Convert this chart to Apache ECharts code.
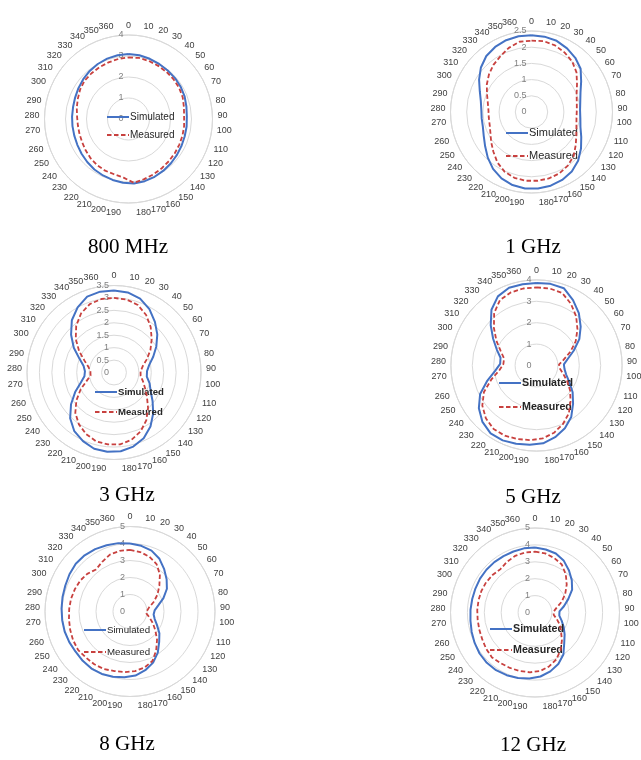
<!DOCTYPE html>
<html>
<head>
<meta charset="utf-8">
<script src="https://cdn.jsdelivr.net/npm/echarts@6/dist/echarts.min.js"></script>
<style>
  html, body { margin: 0; padding: 0; background: #ffffff; }
  #chart { width: 641px; height: 760px; }
</style>
</head>
<body>
<div id="chart"></div>
<script>
// Angular categories (degrees), one spoke every 10 degrees, 0 and 360 both present
const angles = [0,10,20,30,40,50,60,70,80,90,100,110,120,130,140,150,160,170,180,
                190,200,210,220,230,240,250,260,270,280,290,300,310,320,330,340,350,360];

// Radiation patterns, one simulated and one measured curve per frequency
const sim800  = [3.1,3.08,3.04,3.0,2.97,2.95,2.92,2.88,2.82,2.78,2.79,2.8,2.83,2.87,2.92,2.97,3.02,3.06,3.08,
                 3.05,3.0,2.95,2.9,2.84,2.78,2.73,2.7,2.69,2.69,2.7,2.74,2.8,2.87,2.94,3.0,3.05,3.08];
const meas800 = [2.93,2.95,2.93,2.9,2.88,2.86,2.83,2.78,2.7,2.65,2.67,2.69,2.71,2.74,2.78,2.83,2.89,2.96,3.05,
                 2.8,2.72,2.7,2.66,2.6,2.53,2.47,2.44,2.43,2.45,2.52,2.6,2.7,2.78,2.8,2.83,2.86,2.9];

const sim1G   = [2.37,2.36,2.33,2.25,2.15,2.02,1.8,1.63,1.54,1.5,1.52,1.58,1.72,1.9,2.08,2.22,2.3,2.35,2.37,
                 2.37,2.33,2.25,2.12,1.95,1.78,1.65,1.57,1.55,1.55,1.6,1.72,1.9,2.08,2.22,2.3,2.35,2.37];
const meas1G  = [2.2,2.22,2.18,2.1,2.0,1.85,1.65,1.5,1.43,1.4,1.4,1.45,1.55,1.7,1.88,2.0,2.08,2.12,2.13,
                 2.13,2.1,2.02,1.88,1.7,1.55,1.42,1.35,1.33,1.33,1.38,1.48,1.62,1.75,1.87,1.97,2.1,2.2];

const sim3G   = [3.3,3.27,3.15,2.92,2.62,2.32,2.0,1.7,1.45,1.33,1.33,1.5,1.65,1.93,2.28,2.62,2.9,3.08,3.18,
                 3.2,3.17,3.03,2.85,2.55,2.15,1.75,1.4,1.2,1.17,1.25,1.5,1.9,2.3,2.7,3.0,3.24,3.3];
const meas3G  = [3.0,2.98,2.88,2.65,2.35,2.02,1.72,1.42,1.18,1.07,1.08,1.22,1.4,1.65,1.98,2.32,2.6,2.8,2.9,
                 2.9,2.86,2.72,2.52,2.25,1.88,1.5,1.15,0.95,0.95,1.05,1.28,1.65,2.05,2.42,2.72,2.92,3.0];

const sim5G   = [3.85,3.87,3.83,3.5,3.15,2.75,2.35,1.88,1.5,1.28,1.32,1.45,1.72,2.1,2.47,2.9,3.22,3.46,3.65,
                 3.72,3.78,3.84,3.83,3.65,3.35,2.95,2.4,1.95,1.7,1.72,2.0,2.38,2.85,3.35,3.7,3.85,3.85];
const meas5G  = [3.65,3.65,3.6,3.3,2.95,2.55,2.15,1.7,1.3,1.05,1.1,1.3,1.6,1.95,2.3,2.7,3.0,3.25,3.42,
                 3.5,3.55,3.6,3.58,3.42,3.15,2.75,2.2,1.75,1.55,1.55,1.8,2.2,2.65,3.15,3.5,3.62,3.65];

const sim8G   = [4.0,3.92,3.8,3.55,3.2,2.87,2.55,2.12,1.7,1.45,1.4,1.52,1.78,2.15,2.48,2.92,3.3,3.57,3.78,
                 3.88,3.97,4.03,4.05,4.02,3.98,4.0,4.02,4.02,4.03,4.06,4.1,4.18,4.25,4.25,4.2,4.13,4.08];
const meas8G  = [3.62,3.55,3.42,3.2,2.8,2.3,1.9,1.5,1.15,1.0,0.98,1.2,1.5,1.85,2.3,2.75,3.2,3.4,3.52,
                 3.58,3.62,3.72,3.75,3.75,3.8,3.75,3.68,3.62,3.58,3.55,3.5,3.45,3.35,3.18,3.35,3.55,3.62];

const sim12G  = [3.85,3.78,3.7,3.5,3.2,2.9,2.58,2.12,1.75,1.45,1.45,1.65,1.9,2.18,2.5,3.0,3.35,3.6,3.8,
                 3.92,4.0,4.07,4.12,4.12,4.08,4.0,3.92,3.85,3.82,3.8,3.8,3.82,3.83,3.83,3.82,3.83,3.85];
const meas12G = [3.6,3.55,3.42,3.25,2.9,2.5,2.1,1.7,1.3,1.1,1.12,1.35,1.65,1.92,2.3,2.7,3.05,3.3,3.48,
                 3.55,3.58,3.6,3.62,3.68,3.6,3.5,3.45,3.42,3.42,3.42,3.42,3.4,3.35,3.28,3.42,3.55,3.6];

// Frequency captions and radial scale (max, step) of each panel
const captions   = ['800 MHz', '1 GHz', '3 GHz', '5 GHz', '8 GHz', '12 GHz'];
const radialMax  = [4, 2.5, 3.5, 4, 5, 5];
const radialStep = [1, 0.5, 0.5, 1, 1, 1];
const simulated  = [sim800, sim1G, sim3G, sim5G, sim8G, sim12G];
const measured   = [meas800, meas1G, meas3G, meas5G, meas8G, meas12G];
const seriesNames = ['Simulated', 'Measured'];

// 37 spokes share the full turn, so the angle axis spans 370 units and 370 coincides with 0
const FULL_TURN = 370;

// Panel placement on the page
const layout = [
  { center: [128.5, 119], radius: 84,   legend: { left: 106, top: 111, gap: 6,  size: 10,   bold: false }, cap: [128, 247] },
  { center: [531.5, 112], radius: 81,   legend: { left: 505, top: 127, gap: 11, size: 11,   bold: false }, cap: [533, 247] },
  { center: [114, 372.5], radius: 87,   legend: { left: 94,  top: 386, gap: 8,  size: 9.6,  bold: true  }, cap: [127, 495] },
  { center: [536.5, 365.5], radius: 85.6, legend: { left: 498, top: 377, gap: 12, size: 10.7, bold: true  }, cap: [533, 497] },
  { center: [130, 611.5], radius: 85,   legend: { left: 83,  top: 624, gap: 10, size: 9.7,  bold: false }, cap: [127, 744] },
  { center: [535, 612.5], radius: 84.5, legend: { left: 489, top: 623, gap: 9,  size: 10.7, bold: true  }, cap: [533, 745] }
];

const SIM_COLOR = '#4472C4';
const MEAS_COLOR = '#C8413F';
const GRID_COLOR = '#D9D9D9';
const LABEL_FONT = 'Liberation Sans';
const LABEL_SIZE = 9;
const DIGIT_W = 5;   // advance of one digit at LABEL_SIZE

// Labels just off the vertical are pushed to one side of their spoke
const pushRight = [10, 170, 180];
const pushLeft = [190, 200, 360];

function angleLabel(v) {
  if (v >= FULL_TURN) return '';
  const s = String(v);
  if (pushRight.includes(v)) return '{r' + s.length + '|' + s + '}';
  if (pushLeft.includes(v)) return '{l' + s.length + '|' + s + '}';
  return s;
}

function richSides() {
  const base = { color: '#404040', fontSize: LABEL_SIZE, fontFamily: LABEL_FONT };
  const out = {};
  [2, 3].forEach(n => {
    out['r' + n] = Object.assign({ padding: [0, 0, 0, n * DIGIT_W] }, base);
    out['l' + n] = Object.assign({ padding: [0, n * DIGIT_W, 0, 0] }, base);
  });
  return out;
}

function closedRing(values) {
  const pts = angles.map((a, i) => [values[i], a]);
  pts.push([values[0], FULL_TURN]);
  return pts;
}

const polar = [], angleAxis = [], radiusAxis = [], series = [], legend = [], graphic = [];

layout.forEach((p, i) => {
  polar.push({ center: p.center, radius: [0, p.radius] });

  angleAxis.push({
    polarIndex: i,
    type: 'value',
    min: 0,
    max: FULL_TURN,
    interval: 10,
    startAngle: 90,
    clockwise: true,
    axisLine: { show: true, lineStyle: { color: GRID_COLOR, width: 1 } },
    axisTick: { show: false },
    splitLine: { show: false },
    axisLabel: {
      show: true,
      margin: 5,
      color: '#404040',
      fontSize: LABEL_SIZE,
      fontFamily: LABEL_FONT,
      formatter: angleLabel,
      rich: richSides()
    }
  });

  radiusAxis.push({
    polarIndex: i,
    type: 'value',
    min: 0,
    max: radialMax[i],
    interval: radialStep[i],
    axisLine: { show: false },
    axisTick: { show: false },
    splitLine: { show: true, lineStyle: { color: GRID_COLOR, width: 1 } },
    axisLabel: {
      show: true,
      margin: 5,
      color: '#808080',
      fontSize: LABEL_SIZE,
      fontFamily: LABEL_FONT
    }
  });

  series.push({
    name: seriesNames[0],
    type: 'line',
    coordinateSystem: 'polar',
    polarIndex: i,
    data: closedRing(simulated[i]),
    symbol: 'none',
    lineStyle: { color: SIM_COLOR, width: 2 },
    itemStyle: { color: SIM_COLOR },
    silent: true,
    z: 3
  });
  series.push({
    name: seriesNames[1],
    type: 'line',
    coordinateSystem: 'polar',
    polarIndex: i,
    data: closedRing(measured[i]),
    symbol: 'none',
    lineStyle: { color: MEAS_COLOR, width: 1.8, type: [4.5, 2.5] },
    itemStyle: { color: MEAS_COLOR },
    silent: true,
    z: 4
  });

  legend.push({
    data: seriesNames,
    orient: 'vertical',
    left: p.legend.left,
    top: p.legend.top,
    padding: 0,
    itemGap: p.legend.gap,
    itemWidth: 22,
    itemHeight: 10,
    selectedMode: false,
    itemStyle: { opacity: 0 },
    lineStyle: { opacity: 1 },
    textStyle: {
      color: '#262626',
      fontSize: p.legend.size,
      fontWeight: p.legend.bold ? 'bold' : 'normal',
      fontFamily: LABEL_FONT,
      lineHeight: 12,
      padding: [0, 0, 0, -4]
    }
  });

  graphic.push({
    type: 'text',
    x: p.cap[0],
    y: p.cap[1],
    style: {
      text: captions[i],
      fill: '#000000',
      font: '21px "Liberation Serif", "Times New Roman", serif',
      textAlign: 'center',
      textVerticalAlign: 'middle'
    }
  });
});

const chart = echarts.init(document.getElementById('chart'), null, { renderer: 'canvas' });
chart.setOption({
  backgroundColor: '#ffffff',
  animation: false,
  polar, angleAxis, radiusAxis, series, legend, graphic
});
</script>
</body>
</html>
